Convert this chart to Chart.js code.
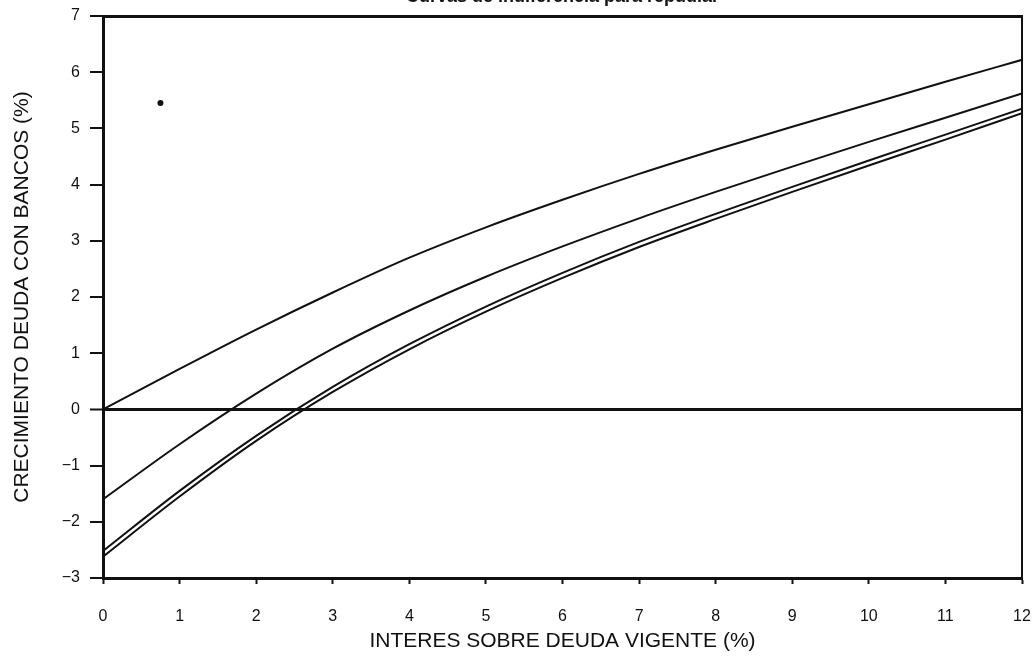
<!DOCTYPE html>
<html>
<head>
<meta charset="utf-8">
<script src="https://cdn.jsdelivr.net/npm/chart.js@4.4.1/dist/chart.umd.min.js"></script>
<style>
  html, body { margin: 0; padding: 0; background: #fff; overflow: hidden; }
  #wrap { position: absolute; left: 0; top: -14px; width: 1032px; height: 670px; }
</style>
</head>
<body>
<div id="wrap"><canvas id="chart"></canvas></div>
<script>
// interes sobre deuda vigente (%)
const interes = [0, 1, 2, 3, 4, 5, 6, 7, 8, 9, 10, 11, 12];

// crecimiento deuda con bancos (%), one array per curve
const curva1 = [0, 0.72, 1.42, 2.08, 2.70, 3.24, 3.73, 4.19, 4.62, 5.03, 5.43, 5.83, 6.22];
const curva2 = [-1.6, -0.62, 0.28, 1.08, 1.76, 2.36, 2.90, 3.40, 3.87, 4.32, 4.76, 5.19, 5.62];
const curva3 = [-2.52, -1.45, -0.47, 0.40, 1.16, 1.83, 2.43, 2.98, 3.48, 3.96, 4.43, 4.89, 5.35];
const curva4 = [-2.62, -1.55, -0.56, 0.31, 1.07, 1.74, 2.34, 2.89, 3.39, 3.87, 4.34, 4.80, 5.27];

// lone point
const puntoX = [0.75];
const puntoY = [5.45];

const titulo = 'Curvas de indiferencia para repudiar';
const tituloX = 'INTERES SOBRE DEUDA VIGENTE (%)';
const tituloY = 'CRECIMIENTO DEUDA CON BANCOS (%)';

const FONT = '"Liberation Sans", Arial, Helvetica, sans-serif';

const toPoints = ys => interes.map((x, i) => ({ x, y: ys[i] }));

const curveStyle = {
  borderColor: '#111',
  borderWidth: 2,
  pointRadius: 0,
  fill: false,
  cubicInterpolationMode: 'monotone'
};

const datasets = [curva1, curva2, curva3, curva4].map((ys, i) => ({
  label: 'curva ' + (i + 1),
  data: toPoints(ys),
  ...curveStyle
}));

datasets.push({
  label: 'punto',
  type: 'scatter',
  data: puntoX.map((x, i) => ({ x, y: puntoY[i] })),
  pointRadius: 3,
  pointBackgroundColor: '#111',
  pointBorderWidth: 0,
  showLine: false
});

const minus = v => (v < 0 ? '\u2212' + Math.abs(v) : String(v));

// keep the plot box where the scan has it, ignore label overflow padding
const noSidePad = s => { s.paddingLeft = 0; s.paddingRight = 0; };

new Chart(document.getElementById('chart'), {
  type: 'line',
  data: { datasets },
  options: {
    responsive: true,
    maintainAspectRatio: false,
    animation: false,
    layout: { padding: { left: 0, right: 10, top: 0, bottom: 0 } },
    plugins: {
      legend: { display: false },
      tooltip: { enabled: false },
      title: {
        display: true,
        fullSize: false,
        text: titulo,
        color: '#111',
        font: { family: FONT, size: 18, weight: 'bold' },
        padding: { top: 0, bottom: 8.4 }
      }
    },
    scales: {
      x: {
        type: 'linear',
        position: 'bottom',
        min: 0,
        max: 12,
        afterFit: s => { s.height = 78; noSidePad(s); },
        ticks: {
          stepSize: 1,
          color: '#111',
          padding: 23,
          font: { family: FONT, size: 16 }
        },
        grid: {
          drawOnChartArea: false,
          tickLength: 6,
          tickColor: '#111',
          tickWidth: 2
        },
        border: { display: true, color: '#111', width: 3 },
        title: {
          display: true,
          text: tituloX,
          color: '#111',
          font: { family: FONT, size: 21 },
          padding: { top: 0, bottom: 2 }
        }
      },
      y: {
        type: 'linear',
        position: 'left',
        min: -3,
        max: 7,
        afterFit: s => { s.width = 103; },
        ticks: {
          stepSize: 1,
          color: '#111',
          padding: 10,
          font: { family: FONT, size: 16 },
          callback: v => minus(v)
        },
        grid: {
          drawOnChartArea: true,
          color: c => (c.tick && c.tick.value === 0 ? '#111' : 'rgba(0,0,0,0)'),
          lineWidth: c => (c.tick && c.tick.value === 0 ? 3 : 0),
          tickLength: 13,
          tickColor: '#111',
          tickWidth: 2
        },
        border: { display: true, color: '#111', width: 3 },
        title: {
          display: true,
          text: tituloY,
          color: '#111',
          font: { family: FONT, size: 21 },
          padding: { top: 9.4, bottom: 0 }
        }
      },
      xTop: {
        type: 'linear',
        position: 'top',
        min: 0,
        max: 12,
        afterFit: s => { s.height = 0; noSidePad(s); },
        ticks: { display: false },
        grid: { display: false, drawTicks: false },
        border: { display: true, color: '#111', width: 3 }
      },
      yRight: {
        type: 'linear',
        position: 'right',
        min: -3,
        max: 7,
        afterFit: s => { s.width = 0; },
        ticks: { display: false },
        grid: { display: false, drawTicks: false },
        border: { display: true, color: '#111', width: 2 }
      }
    }
  }
});
</script>
</body>
</html>
